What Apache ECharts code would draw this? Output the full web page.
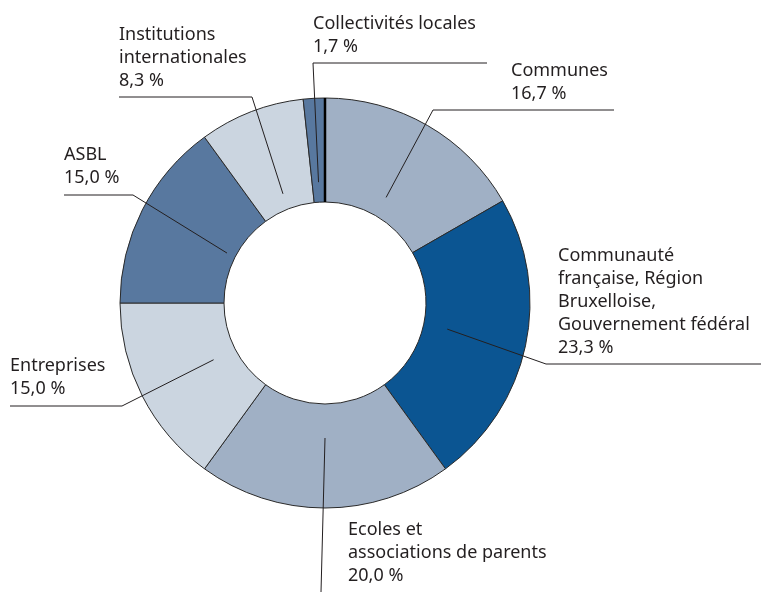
<!DOCTYPE html>
<html>
<head>
<meta charset="utf-8">
<script src="https://cdn.jsdelivr.net/npm/echarts@6/dist/echarts.min.js"></script>
<style>
  html, body { margin: 0; padding: 0; background: #ffffff; }
  #chart { width: 761px; height: 592px; }
</style>
</head>
<body>
<div id="chart"></div>
<script>
// Funding sources, share of total (%)
const categories = [
  'Communes',
  'Communauté\nfrançaise, Région\nBruxelloise,\nGouvernement fédéral',
  'Ecoles et\nassociations de parents',
  'Entreprises',
  'ASBL',
  'Institutions\ninternationales',
  'Collectivités locales'
];
const values = [16.7, 23.3, 20.0, 15.0, 15.0, 8.3, 1.7];
const colors = ['#a0b0c5', '#0b5592', '#a0b0c5', '#cbd5e0', '#58789f', '#cbd5e0', '#58789f'];

// Ring geometry (px)
const CX = 325, CY = 303, R_IN = 101, R_OUT = 205;

// Leader line: anchor radius inside the slice, elbow / end points, label anchor
const labelPlacement = [
  { r: 122, elbow: [433, 110], end: [614, 110], text: [511, 105] },
  { r: 125, elbow: [546, 364], end: [761, 364], text: [558, 359] },
  { r: 135, elbow: [321, 592], end: [321, 592], text: [348, 587] },
  { r: 125, elbow: [122, 406], end: [10, 406],  text: [10, 400] },
  { r: 110, elbow: [133, 195], end: [64, 195],  text: [64, 189] },
  { r: 117, elbow: [252, 97],  end: [119, 97],  text: [119, 92] },
  { r: 121, elbow: [313, 63],  end: [487, 63],  text: [313, 58] }
];

const total = values.reduce((a, b) => a + b, 0);
function midAngle(i) {
  let before = 0;
  for (let k = 0; k < i; k++) before += values[k];
  return (before + values[i] / 2) / total * 2 * Math.PI;
}

const pieData = (transparent) => categories.map((name, i) => ({
  name: name,
  value: values[i],
  itemStyle: { color: transparent ? 'rgba(0,0,0,0)' : colors[i] }
}));

const chart = echarts.init(document.getElementById('chart'), null, { renderer: 'canvas' });

chart.setOption({
  backgroundColor: '#ffffff',
  animation: false,
  series: [
    {
      // coloured ring
      type: 'pie',
      z: 2,
      center: [CX, CY],
      radius: [R_IN, R_OUT],
      startAngle: 90,
      clockwise: true,
      silent: true,
      label: { show: false },
      labelLine: { show: false },
      itemStyle: { borderColor: '#2a2a2a', borderWidth: 1 },
      data: pieData(false)
    },
    {
      // same ring, invisible, carrying labels and leader lines on top
      type: 'pie',
      z: 3,
      center: [CX, CY],
      radius: [R_IN, R_OUT],
      startAngle: 90,
      clockwise: true,
      avoidLabelOverlap: false,
      silent: true,
      itemStyle: { borderWidth: 0 },
      label: {
        show: true,
        position: 'outside',
        fontFamily: 'Noto Sans',
        fontSize: 18,
        lineHeight: 23,
        color: '#231f20',
        formatter: p => p.name + '\n' + p.value.toFixed(1).replace('.', ',') + ' %'
      },
      labelLine: {
        show: true,
        lineStyle: { color: '#231f20', width: 1 }
      },
      labelLayout: params => {
        const i = params.dataIndex;
        const a = midAngle(i);
        const pl = labelPlacement[i];
        const start = [CX + pl.r * Math.sin(a), CY - pl.r * Math.cos(a)];
        return {
          x: pl.text[0],
          y: pl.text[1],
          align: 'left',
          verticalAlign: 'bottom',
          labelLinePoints: [start, pl.elbow.slice(), pl.end.slice()]
        };
      },
      data: pieData(true)
    }
  ],
  graphic: [{
    type: 'line',
    shape: { x1: CX, y1: CY - R_OUT, x2: CX, y2: CY - R_IN },
    style: { stroke: '#000000', lineWidth: 2.5 },
    z: 100
  }]
});
</script>
</body>
</html>
